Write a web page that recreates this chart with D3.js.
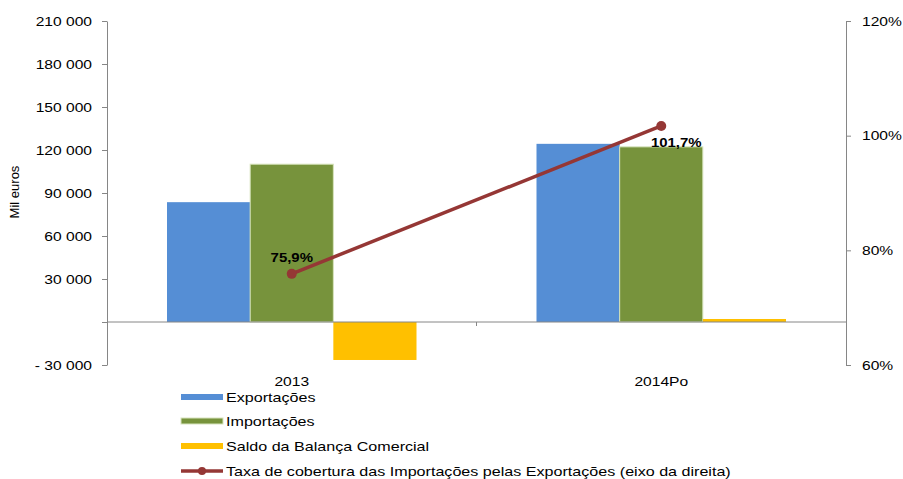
<!DOCTYPE html>
<html><head><meta charset="utf-8">
<script src="https://cdn.jsdelivr.net/npm/d3@7"></script>
<style>body{margin:0;background:#fff}svg{display:block;font-family:"Liberation Sans",Arial,sans-serif}</style>
</head><body><svg id="c" width="903" height="479"></svg>
<script>
const categories = ["2013", "2014Po"];
const seriesNames = ["Exportações", "Importações", "Saldo da Balança Comercial"];
const exportacoes = [83600, 124300];
const importacoes = [110100, 122200];
const saldo = [-26500, 2100];
const taxa = [0.759, 1.017];
const taxaLabels = ["75,9%", "101,7%"];
const leftTicks = [-30000, 0, 30000, 60000, 90000, 120000, 150000, 180000, 210000];
const rightTicks = [0.6, 0.8, 1.0, 1.2];
const lineName = "Taxa de cobertura das Importações pelas Exportações (eixo da direita)";

const colors = ["#558ED5", "#77933C", "#FFC000"];
const lineColor = "#953735";
const axisColor = "#868686";
const SX = 1.2; // horizontal stretch of text, as in the reference

const svg = d3.select("#c");
const L = 107, R = 846, T = 21, B = 365;
const y = d3.scaleLinear().domain([-30000, 210000]).range([B, T]);
const yR = d3.scaleLinear().domain([0.6, 1.2]).range([B, T]);
const x0 = d3.scaleBand().domain(categories).range([L, R]);
const bw = x0.bandwidth();
const x1 = d3.scaleBand().domain(seriesNames).range([60, bw - 60]);

const fmtN = d3.format(",");
const fmtL = d => d === 0 ? "" : (d < 0 ? "- " + fmtN(-d) : fmtN(d)).replace(/,/g, " ");

function txt(parent, x, yy, s, opts = {}) {
  return parent.append("text")
    .attr("transform", `translate(${x},${yy}) scale(${opts.sx || SX},1)`)
    .attr("text-anchor", opts.anchor || "start")
    .attr("font-size", opts.size || 13)
    .attr("font-weight", opts.weight || "normal")
    .attr("fill", "#000")
    .text(s);
}

const data = categories.map((c, i) => ({c, vals: [exportacoes[i], importacoes[i], saldo[i]]}));

// bars
const g = svg.append("g");
data.forEach(d => {
  d.vals.forEach((v, j) => {
    g.append("rect")
      .attr("x", x0(d.c) + x1(seriesNames[j]))
      .attr("y", y(Math.max(0, v)))
      .attr("width", x1.bandwidth())
      .attr("height", Math.abs(y(v) - y(0)))
      .attr("fill", colors[j])
      .attr("stroke", j === 1 ? "#D7E4BD" : "none")
      .attr("stroke-width", 1);
  });
});

// zero line
svg.append("line").attr("x1", L).attr("x2", R).attr("y1", y(0)).attr("y2", y(0))
  .attr("stroke", axisColor).attr("stroke-width", 1);
svg.append("line").attr("x1", x0(categories[1])).attr("x2", x0(categories[1]))
  .attr("y1", y(0)).attr("y2", y(0) + 4).attr("stroke", axisColor);

// left axis
const la = svg.append("g").attr("transform", `translate(${L},0)`)
  .call(d3.axisLeft(y).tickValues(leftTicks).tickFormat("").tickSize(5).tickSizeOuter(0));
la.select(".domain").attr("stroke", axisColor);
la.selectAll(".tick line").attr("stroke", axisColor);
leftTicks.forEach(t => txt(svg, 92, y(t) + 4.5, fmtL(t), {anchor: "end"}));

// right axis
const ra = svg.append("g").attr("transform", `translate(${R},0)`)
  .call(d3.axisRight(yR).tickValues(rightTicks).tickFormat("").tickSize(5).tickSizeOuter(0));
ra.select(".domain").attr("stroke", axisColor);
ra.selectAll(".tick line").attr("stroke", axisColor);
const pf = d3.format(".0%");
rightTicks.forEach(t => txt(svg, 862, yR(t) + 4.5, pf(t)));

// y title
svg.append("text").attr("transform", "translate(19,192) rotate(-90)")
  .attr("text-anchor", "middle").attr("font-size", 13).text("Mil euros");

// category labels
categories.forEach(c => txt(svg, x0(c) + bw / 2, 386, c, {anchor: "middle"}));

// line
const cx = c => x0(c) + bw / 2;
const line = d3.line().x((d, i) => cx(categories[i])).y(d => yR(d));
svg.append("path").attr("d", line(taxa)).attr("fill", "none")
  .attr("stroke", lineColor).attr("stroke-width", 3.5);
taxa.forEach((t, i) => {
  svg.append("circle").attr("cx", cx(categories[i])).attr("cy", yR(t)).attr("r", 5).attr("fill", lineColor);
});
// labels
const lblOff = [[0, -12], [15, 21]];
taxa.forEach((t, i) => {
  txt(svg, cx(categories[i]) + lblOff[i][0], yR(t) + lblOff[i][1], taxaLabels[i],
      {anchor: "middle", weight: "bold", sx: 1.15});
});

// legend
const legY = [397, 421, 446, 471];
const lg = svg.append("g");
seriesNames.forEach((s, j) => {
  lg.append("rect").attr("x", 181).attr("y", legY[j] - 3).attr("width", 42).attr("height", 6)
    .attr("fill", colors[j]).attr("stroke", j === 1 ? "#D7E4BD" : "none");
  txt(lg, 226, legY[j] + 5, s, {sx: 1.24});
});
lg.append("line").attr("x1", 181).attr("x2", 223).attr("y1", legY[3]).attr("y2", legY[3])
  .attr("stroke", lineColor).attr("stroke-width", 3.5);
lg.append("circle").attr("cx", 202).attr("cy", legY[3]).attr("r", 4).attr("fill", lineColor);
txt(lg, 226, legY[3] + 5, lineName, {sx: 1.24});
</script></body></html>
